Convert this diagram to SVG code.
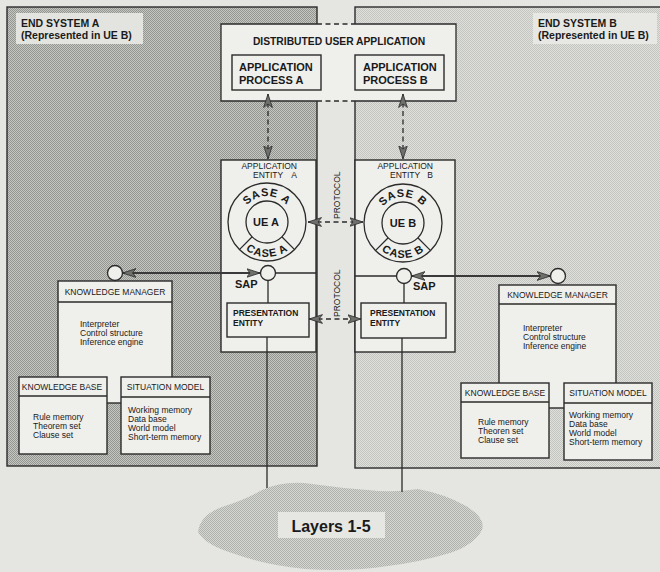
<svg xmlns="http://www.w3.org/2000/svg" width="660" height="572" viewBox="0 0 660 572">
<defs>
  <!-- halftone shading for the two end systems and the lower layers -->
  <pattern id="toneDark" width="2" height="2" patternUnits="userSpaceOnUse">
    <rect width="2" height="2" fill="#c5c7c3"/>
    <rect width="1" height="1" fill="#939591"/>
    <rect x="1" y="1" width="1" height="1" fill="#939591"/>
  </pattern>
  <pattern id="toneLight" width="2" height="2" patternUnits="userSpaceOnUse">
    <rect width="2" height="2" fill="#dfe0dc"/>
    <rect width="1" height="1" fill="#c3c5c1"/>
    <rect x="1" y="1" width="1" height="1" fill="#c3c5c1"/>
  </pattern>
  <pattern id="toneCloud" width="2" height="2" patternUnits="userSpaceOnUse">
    <rect width="2" height="2" fill="#d5d7d3"/>
    <rect width="1" height="1" fill="#afb1ad"/>
    <rect x="1" y="1" width="1" height="1" fill="#afb1ad"/>
  </pattern>
  <marker id="ah" viewBox="0 0 14 10" refX="13.5" refY="5" markerWidth="14" markerHeight="10" markerUnits="userSpaceOnUse" orient="auto-start-reverse">
    <path d="M0,0.6 L13.5,5 L0,9.4 L3.5,5 Z" fill="#6e706c" stroke="#2b2b2b" stroke-width="0.8"/>
  </marker>
  <!-- ring text baselines -->
  <path id="arcTopA" d="M241,222 A26,26 0 0 1 293,222"/>
  <path id="arcBotA" d="M232,222 A35,35 0 0 0 302,222"/>
  <path id="arcTopB" d="M377,223 A26,26 0 0 1 429,223"/>
  <path id="arcBotB" d="M368,223 A35,35 0 0 0 438,223"/>
</defs>
<style>
  .ln{stroke:#2b2b2b;stroke-width:1.3;fill:none}
  .box{fill:#efefec;stroke:#2b2b2b;stroke-width:1.4}
  .region{stroke:#2b2b2b;stroke-width:1.4}
  .dash{stroke-dasharray:5 3.5}
  .conn{stroke:#3a3a3a;stroke-width:2;fill:none}
  .sap{fill:#efefec;stroke:#2b2b2b;stroke-width:1.3}
  text{font-family:"Liberation Sans",Arial,Helvetica,sans-serif;fill:#1a1a1a}
  .b{font-weight:bold}
  .t105{font-size:10.5px;font-weight:bold}
  .t11{font-size:11px;font-weight:bold}
  .t85{font-size:8.5px}
  .hd{font-size:8.5px;text-anchor:middle}
  .ring{font-size:11px;font-weight:bold;letter-spacing:0.8px}
</style>

<!-- page -->
<rect width="660" height="572" fill="#e5e6e2"/>

<!-- end systems -->
<g id="endSystemA">
  <rect class="region" x="7" y="7" width="310" height="459" fill="url(#toneDark)"/>
  <rect x="16" y="13" width="127" height="31" fill="#e3e4e0"/>
  <text class="t105" x="21" y="27">END SYSTEM A</text>
  <text class="t105" x="21" y="39">(Represented in UE B)</text>
</g>
<g id="endSystemB">
  <rect class="region" x="355" y="7" width="310" height="461" fill="url(#toneLight)"/>
  <rect x="533" y="13" width="124" height="31" fill="#e7e8e4"/>
  <text class="t105" x="538" y="27">END SYSTEM B</text>
  <text class="t105" x="538" y="39">(Represented in UE B)</text>
</g>

<!-- lower layers -->
<g id="layers">
  <path d="M198,532 Q200,515 222,507 Q245,500 262,490 Q285,480 312,484 Q340,488 368,490 Q392,493 418,489 Q445,494 466,506 Q486,518 482,530 Q474,545 450,553 Q420,562 388,566 Q350,572 305,569 Q265,565 235,554 Q205,545 198,532 Z" fill="url(#toneCloud)"/>
  <rect x="278" y="512" width="107" height="26" fill="#e6e7e3"/>
  <text x="331" y="532" text-anchor="middle" font-size="16" font-weight="bold">Layers 1-5</text>
</g>

<!-- distributed user application -->
<g id="dua">
  <rect x="221" y="24" width="235" height="77" fill="#efefec"/>
  <path class="ln" d="M317,24 H221 V101 H317 M355,24 H456 V101 H355"/>
  <path class="ln dash" d="M317,24 H355 M317,101 H355"/>
  <text x="339" y="45" text-anchor="middle" font-size="10.3" class="b">DISTRIBUTED USER APPLICATION</text>
</g>
<g id="processA">
  <rect class="box" x="232" y="55" width="89" height="35"/>
  <text class="t11" x="239" y="71">APPLICATION</text>
  <text class="t11" x="239" y="84">PROCESS A</text>
</g>
<g id="processB">
  <rect class="box" x="355" y="55" width="89" height="35"/>
  <text class="t11" x="363" y="71">APPLICATION</text>
  <text class="t11" x="363" y="84">PROCESS B</text>
</g>

<!-- application entity A -->
<g id="entityA">
  <rect class="box" x="221" y="160" width="95" height="192"/>
  <text class="t85" x="297" y="169" text-anchor="end">APPLICATION</text>
  <text class="t85" x="253" y="178">ENTITY</text>
  <text class="t85" x="297" y="178" text-anchor="end">A</text>
  <circle class="ln" cx="267" cy="222" r="39" fill="#efefec"/>
  <circle class="ln" cx="267" cy="222" r="21"/>
  <path class="ln" d="M252.2,236.8 L239.4,249.6 M281.8,236.8 L294.6,249.6"/>
  <text class="ring"><textPath href="#arcTopA" startOffset="50%" text-anchor="middle">SASE A</textPath></text>
  <text class="ring"><textPath href="#arcBotA" startOffset="50%" text-anchor="middle">CASE A</textPath></text>
  <text class="t11" x="266" y="226" text-anchor="middle">UE A</text>
  <path class="ln" d="M275.5,273 H316"/>
  <text class="t11" x="235" y="288">SAP</text>
</g>
<g id="presentationA">
  <rect class="box" x="227" y="303" width="82" height="34"/>
  <text class="t85 b" x="233" y="316">PRESENTATION</text>
  <text class="t85 b" x="233" y="326">ENTITY</text>
</g>

<!-- application entity B -->
<g id="entityB">
  <rect class="box" x="355" y="160" width="100" height="192"/>
  <text class="t85" x="433" y="169" text-anchor="end">APPLICATION</text>
  <text class="t85" x="390" y="178">ENTITY</text>
  <text class="t85" x="433" y="178" text-anchor="end">B</text>
  <circle class="ln" cx="403" cy="223" r="39" fill="#efefec"/>
  <circle class="ln" cx="403" cy="223" r="21"/>
  <path class="ln" d="M388.2,237.8 L375.4,250.6 M417.8,237.8 L430.6,250.6"/>
  <text class="ring"><textPath href="#arcTopB" startOffset="50%" text-anchor="middle">SASE B</textPath></text>
  <text class="ring"><textPath href="#arcBotB" startOffset="50%" text-anchor="middle">CASE B</textPath></text>
  <text class="t11" x="403" y="227" text-anchor="middle">UE B</text>
  <path class="ln" d="M355,276 H396.5"/>
  <text class="t11" x="413" y="290">SAP</text>
</g>
<g id="presentationB">
  <rect class="box" x="361" y="303" width="85" height="35"/>
  <text class="t85 b" x="370" y="316">PRESENTATION</text>
  <text class="t85 b" x="370" y="326">ENTITY</text>
</g>

<!-- knowledge system A -->
<g id="managerA">
  <rect class="box" x="58" y="281" width="114" height="122"/>
  <path class="ln" d="M58,302 H172"/>
  <text class="hd" x="115" y="295">KNOWLEDGE MANAGER</text>
  <text class="t85" x="80" y="327">Interpreter</text>
  <text class="t85" x="80" y="336">Control structure</text>
  <text class="t85" x="80" y="345">Inference engine</text>
</g>
<g id="baseA">
  <rect class="box" x="19" y="377" width="88" height="77"/>
  <path class="ln" d="M19,396 H107"/>
  <text class="hd" x="62" y="390">KNOWLEDGE BASE</text>
  <text class="t85" x="33" y="420">Rule memory</text>
  <text class="t85" x="33" y="429">Theorem set</text>
  <text class="t85" x="33" y="438">Clause set</text>
</g>
<g id="situationA">
  <rect class="box" x="121" y="377" width="89" height="77"/>
  <path class="ln" d="M121,397 H210"/>
  <text class="hd" x="165.5" y="390">SITUATION MODEL</text>
  <text class="t85" x="128" y="413">Working memory</text>
  <text class="t85" x="128" y="422">Data base</text>
  <text class="t85" x="128" y="431">World model</text>
  <text class="t85" x="128" y="440">Short-term memory</text>
</g>

<!-- knowledge system B -->
<g id="managerB">
  <rect class="box" x="499" y="285" width="117" height="123"/>
  <path class="ln" d="M499,304 H616"/>
  <text class="hd" x="557.5" y="298">KNOWLEDGE MANAGER</text>
  <text class="t85" x="523" y="331">Interpreter</text>
  <text class="t85" x="523" y="340">Control structure</text>
  <text class="t85" x="523" y="349">Inference engine</text>
</g>
<g id="baseB">
  <rect class="box" x="461" y="383" width="88" height="75"/>
  <path class="ln" d="M461,402 H549"/>
  <text class="hd" x="505" y="396">KNOWLEDGE BASE</text>
  <text class="t85" x="478" y="425">Rule memory</text>
  <text class="t85" x="478" y="434">Theoren set</text>
  <text class="t85" x="478" y="443">Clause set</text>
</g>
<g id="situationB">
  <rect class="box" x="564" y="383" width="88" height="77"/>
  <path class="ln" d="M564,403 H652"/>
  <text class="hd" x="608" y="396">SITUATION MODEL</text>
  <text class="t85" x="569" y="418">Working memory</text>
  <text class="t85" x="569" y="427">Data base</text>
  <text class="t85" x="569" y="436">World model</text>
  <text class="t85" x="569" y="445">Short-term memory</text>
</g>

<!-- connectors -->
<g id="connectors">
  <!-- process to entity -->
  <path class="ln dash" d="M268,94 V159" marker-start="url(#ah)" marker-end="url(#ah)"/>
  <path class="ln dash" d="M403,94 V159" marker-start="url(#ah)" marker-end="url(#ah)"/>
  <!-- peer protocols -->
  <path class="ln dash" d="M308,222 H363" marker-start="url(#ah)" marker-end="url(#ah)"/>
  <path class="ln dash" d="M309,319 H361" marker-start="url(#ah)" marker-end="url(#ah)"/>
  <text class="t85" transform="translate(340,219) rotate(-90)">PROTOCOL</text>
  <text class="t85" transform="translate(340,317) rotate(-90)">PROTOCOL</text>
  <!-- service access points to knowledge managers -->
  <path class="conn" d="M122.5,273 H260" marker-start="url(#ah)" marker-end="url(#ah)"/>
  <path class="conn" d="M411.5,276 H550.5" marker-start="url(#ah)" marker-end="url(#ah)"/>
  <circle class="sap" cx="115" cy="273" r="7.5"/>
  <circle class="sap" cx="558" cy="276" r="7.5"/>
  <circle class="sap" cx="268" cy="273" r="7.5"/>
  <circle class="sap" cx="404" cy="276" r="7.5"/>
  <!-- down to presentation and lower layers -->
  <path class="ln" d="M268,280.5 V303 M404,283.5 V303"/>
  <path class="ln" d="M267,337 V488 M402,338 V492"/>
</g>
</svg>
